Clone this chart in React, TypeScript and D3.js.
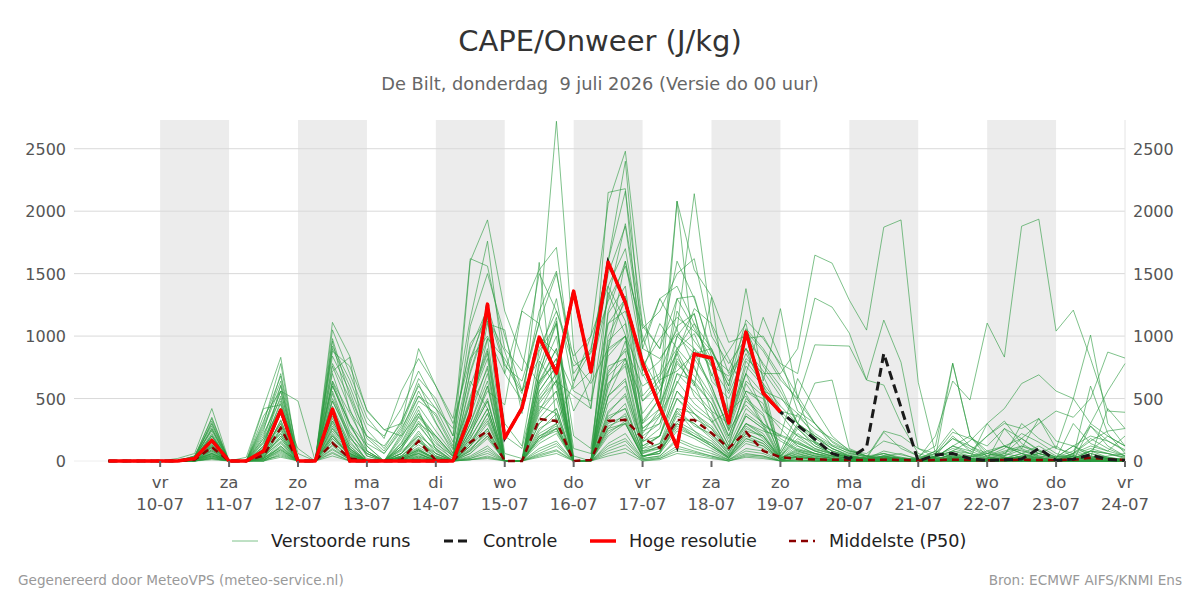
import React, { useEffect, useRef } from 'react';
import * as d3 from 'd3';

// 6-hourly steps, starting 9-07 06:00 UTC (60 steps up to 24-07 00:00)
const startTime = Date.UTC(2026, 6, 9, 6);
const stepHours = 6;

const dayNames = ['zo', 'ma', 'di', 'wo', 'do', 'vr', 'za'];
const yTicks = [0, 500, 1000, 1500, 2000, 2500];
const legendLabels = ['Verstoorde runs', 'Controle', 'Hoge resolutie', 'Middelste (P50)'];

// Hoge resolutie (runs to +240h)
const hres = [
  0, 0, 0, 0, 0, 20, 165, 0, 0, 80, 408, 0, 0, 415, 0, 0, 0, 0, 0, 0,
  0, 370, 1256, 184, 424, 992, 704, 1360, 712, 1592, 1270, 784, 432, 112, 856, 824, 304, 1032, 544, 392,
];

// Controle
const control = [
  0, 0, 0, 0, 0, 20, 165, 0, 0, 80, 408, 0, 0, 415, 0, 0, 0, 0, 0, 0,
  0, 370, 1256, 184, 424, 992, 704, 1360, 712, 1592, 1270, 784, 432, 112, 856, 824, 304, 1032, 544, 392,
  285, 175, 60, 20, 110, 860, 430, 0, 48, 60, 20, 5, 10, 15, 100, 5, 15, 50, 12, 5,
];

// Middelste (P50)
const p50 = [
  0, 0, 0, 0, 0, 10, 110, 0, 0, 45, 264, 0, 0, 144, 20, 0, 0, 10, 160, 5,
  0, 150, 240, 0, 0, 336, 320, 0, 8, 320, 330, 184, 104, 328, 328, 224, 104, 232, 80, 32,
  16, 12, 10, 8, 8, 10, 8, 5, 8, 10, 8, 5, 8, 10, 8, 8, 10, 25, 15, 8,
];

// Verstoorde runs (ensemble members)
const members: number[][] = [
  [0,0,0, 0,0,30,210, 0,0,150,520, 0,0,640,380, 120,0,150,410, 90,0,820,1180, 760,640,1100,2720, 900,420,1350,1010, 380,560,880,620, 310,400,520,280, 210,150,90,60, 30,20,40,10, 0,10,60,20, 0,10,40,30, 10,20,80,30, 10],
  [0,0,0, 0,0,20,320, 0,0,90,610, 0,0,980,520, 200,80,280,620, 310,60,1600,1930, 1200,830,620,900, 400,650,1500,1880, 950,1300,1400,1100, 900,600,1380,640, 1220,500,140,60, 20,10,20,10, 0,30,120,60, 20,60,180,90, 30,120,60,20, 10],
  [0,0,0, 0,0,10,180, 0,0,240,700, 60,0,880,760, 410,250,300,900, 600,340,1140,1760, 700,1200,1100,640, 520,420,2150,2180, 700,450,800,600, 1310,380,700,1150, 820,400,300,120, 60,40,10,0, 0,0,20,0, 10,30,20,10, 0,40,10,0, 0],
  [0,0,0, 0,0,40,280, 0,0,420,450, 0,0,560,200, 0,0,120,300, 200,50,400,1100, 1050,380,1590,300, 620,1000,2060,2480, 1260,400,2080,820, 600,250,450,300, 180,90,60,20, 10,0,0,0, 0,0,40,10, 0,30,10,0, 0,20,0,0, 0],
  [0,0,0, 0,0,20,150, 0,0,60,380, 0,0,720,830, 80,0,60,180, 60,0,260,560, 450,1210,1530,1710, 640,880,1600,2400, 900,1300,1050,2140, 1080,700,900,560, 500,380,200,100, 40,20,30,10, 0,10,0,20, 10,0,30,10, 0,0,10,0, 0],
  [0,0,0, 0,0,10,90, 0,0,20,260, 0,0,420,120, 0,0,30,90, 0,0,380,980, 820,560,1110,1500, 810,620,900,1600, 1000,620,2080,1530, 1320,950,1000,780, 600,300,150,80, 30,10,20,0, 0,20,10,0, 10,0,20,30, 0,0,10,20, 0],
  [0,0,0, 0,0,0,60, 0,0,30,200, 0,0,320,80, 0,0,0,40, 0,0,180,420, 0,0,620,820, 0,0,700,900, 600,700,1080,1180, 640,500,820,700, 700,900,1648,1584, 1288,1048,1872,1930, 630,60,20,10, 0,20,30,10, 0,40,20,10, 0],
  [0,0,0, 0,0,20,110, 0,0,50,330, 0,0,260,100, 0,0,80,200, 100,0,250,500, 0,0,800,600, 0,0,900,1000, 680,800,1050,760, 400,300,700,400, 300,200,150,80, 40,10,30,20, 20,200,640,488, 1104,832,1880,1936, 1040,1208,820,400, 390],
  [0,0,0, 0,0,30,240, 0,0,120,480, 0,0,600,300, 40,0,200,480, 380,120,1080,1500, 1000,560,820,1300, 580,720,1300,1900, 1080,900,1600,1300, 880,600,1130,980, 780,700,1304,1232, 1024,650,1128,790, 100,30,10,0, 0,10,0,20, 10,0,40,20, 0],
  [0,0,0, 0,0,0,40, 0,0,0,120, 0,0,180,60, 0,0,0,30, 0,0,120,380, 0,0,400,650, 0,0,520,820, 480,650,720,860, 900,560,1040,880, 650,500,930,925, 920,648,608,300, 60,20,0,0, 0,10,20,0, 0,0,10,0, 0],
  [0,0,0, 0,0,10,120, 0,0,80,300, 0,0,480,200, 0,0,100,350, 180,30,720,1150, 880,460,1000,860, 560,480,1100,1200, 720,1100,900,1020, 700,400,1050,760, 560,300,624,648, 100,40,20,0, 10,30,780,200, 30,10,40,60, 20,0,0,10, 20],
  [0,0,0, 0,20,60,420, 0,30,430,830, 0,0,1050,700, 350,180,560,820, 600,300,820,1000, 700,480,900,1200, 840,1000,1400,1700, 900,820,1020,900, 760,540,860,620, 440,300,180,100, 50,20,10,0, 0,0,20,0, 0,0,10,0, 0,0,0,0, 0],
  [0,0,0, 0,0,30,300, 0,0,320,680, 0,0,900,600, 250,100,320,600, 420,150,780,1240, 780,540,1200,1520, 700,900,1600,2160, 1100,900,1300,1320, 840,720,1060,900, 680,480,300,150, 70,30,20,10, 0,0,20,0, 0,0,10,0, 0,0,0,0, 0],
  [0,0,0, 0,0,30,350, 0,0,300,780, 0,0,1110,840, 400,250,200,380, 160,0,640,420, 0,0,440,380, 0,0,1400,1120, 480,600,860,1220, 1100,820,540,300, 200,140,80,40, 20,0,10,0, 0,0,30,10, 20,10,0,60, 120,30,10,20, 10],
  [0,0,0, 0,0,40,340, 0,0,360,560, 0,0,960,400, 200,120,300,660, 500,200,1620,1560, 900,720,1500,1200, 760,860,1280,1560, 1060,1200,1500,1620, 1000,780,980,1000, 760,520,300,160, 80,40,20,10, 0,0,10,0, 0,10,0,10, 0,0,10,0, 0],
  [0,0,0, 0,0,20,200, 0,0,180,560, 0,0,920,650, 300,200,420,720, 460,200,940,1140, 0,0,700,1100, 0,0,900,1320, 520,680,900,1100, 760,680,900,680, 400,260,120,60, 30,10,40,20, 10,30,120,80, 200,300,260,340, 100,500,1008,300, 120],
  [0,0,0, 0,0,10,80, 0,0,40,180, 0,0,380,100, 0,0,40,150, 60,0,200,600, 0,0,560,760, 0,0,680,820, 300,420,860,520, 380,120,620,420, 260,120,60,40, 20,30,60,20, 10,80,30,20, 60,120,180,300, 400,350,500,872, 824],
  [0,0,0, 0,0,20,260, 0,0,280,640, 0,0,840,560, 180,60,240,560, 300,90,460,820, 0,0,500,640, 0,0,760,820, 260,380,620,900, 560,280,760,600, 400,360,220,130, 80,60,160,120, 40,120,784,200, 60,40,90,30, 0,40,20,30, 10],
  [0,0,0, 0,0,10,60, 0,0,20,140, 0,0,210,40, 0,0,20,60, 0,0,80,260, 0,0,300,420, 0,0,380,540, 160,200,500,380, 220,80,360,260, 160,80,40,20, 10,0,20,10, 0,10,0,20, 0,20,60,10, 0,30,10,0, 0],
  [0,0,0, 0,0,40,300, 0,0,200,560, 480,0,760,420, 80,0,220,520, 420,260,900,1220, 200,100,680,1000, 100,60,1200,1600, 820,560,1000,1180, 680,880,1100,520, 380,200,100,60, 40,20,60,30, 10,40,200,80, 30,20,60,120, 40,20,80,60, 30],
  [0,0,0, 0,0,10,150, 0,0,100,420, 0,0,540,160, 0,0,60,200, 0,0,300,700, 0,0,520,700, 0,0,580,960, 240,300,700,640, 460,180,480,360, 40,160,80,40, 20,10,0,10, 0,20,50,20, 10,60,30,10, 0,20,60,30, 0],
  [0,0,0, 0,0,10,200, 0,0,140,460, 0,0,700,300, 120,0,180,440, 240,60,520,900, 60,20,760,1150, 40,0,1000,1280, 300,500,1200,960, 780,260,700,540, 80,380,260,180, 90,40,20,10, 0,0,60,40, 20,0,30,60, 20,0,280,120, 40],
  [0,0,0, 0,0,20,180, 0,0,120,380, 0,0,480,180, 60,0,90,320, 140,40,360,760, 0,0,600,820, 0,0,840,1000, 160,360,900,740, 520,200,560,460, 60,300,200,120, 60,30,240,200, 100,60,230,180, 120,260,100,340, 160,120,200,160, 80],
  [0,0,0, 0,0,0,40, 0,0,20,120, 0,0,200,40, 0,0,20,90, 20,0,140,380, 0,0,300,420, 0,0,400,520, 100,140,420,380, 260,100,300,200, 20,80,40,20, 10,0,20,30, 0,30,80,160, 300,420,620,690, 560,500,300,200, 120],
  [0,0,0, 0,0,30,250, 0,0,220,500, 0,0,620,240, 40,0,120,300, 100,0,480,860, 0,0,640,900, 0,0,960,1100, 220,420,1000,860, 600,240,640,520, 40,180,100,50, 20,10,30,10, 0,10,20,10, 0,10,40,20, 10,40,600,220, 60],
  [0,0,0, 0,0,20,220, 0,0,160,420, 0,0,640,280, 80,0,140,380, 200,40,600,980, 0,0,700,1120, 0,0,1180,1400, 320,500,1300,1060, 820,300,800,620, 60,280,160,80, 40,20,80,50, 20,80,260,120, 60,120,80,40, 20,60,180,100, 40],
  [0,0,0, 0,0,10,130, 0,0,70,320, 0,0,400,120, 0,0,60,240, 60,0,300,640, 0,0,480,700, 0,0,620,780, 150,260,700,560, 400,120,420,300, 30,140,80,40, 20,10,30,10, 0,0,30,10, 0,20,10,0, 0,20,30,10, 0],
  [0,0,0, 0,0,20,170, 0,0,110,400, 0,0,500,220, 60,0,100,280, 120,20,420,740, 0,0,560,760, 0,0,720,880, 200,300,780,620, 460,150,500,380, 30,220,120,60, 30,20,40,20, 10,30,80,40, 20,40,120,80, 30,50,100,60, 20],
  [0,0,0, 0,0,30,260, 0,0,260,600, 0,0,780,500, 140,60,260,520, 360,100,700,1120, 300,120,880,1100, 200,100,1100,1300, 760,980,1150,1040, 880,640,900,720, 520,300,200,100, 40,20,10,0, 0,0,10,0, 0,20,10,0, 0,0,20,0, 0],
  [0,0,0, 0,0,20,200, 0,0,180,420, 100,0,600,300, 60,0,120,360, 200,40,500,880, 0,0,640,780, 0,0,880,1000, 260,360,820,680, 500,200,560,500, 40,260,140,60, 30,20,230,100, 40,20,40,20, 10,260,180,80, 30,120,40,20, 10],
  [0,0,0, 0,0,20,140, 0,0,90,300, 0,0,440,140, 20,0,60,220, 80,0,260,600, 0,0,460,640, 0,0,620,760, 100,200,640,460, 340,80,380,280, 20,120,60,30, 10,20,10,0, 0,40,60,20, 300,120,60,30, 0,10,30,420, 260],
  [0,0,0, 0,0,20,120, 0,0,80,280, 0,0,360,100, 0,0,40,160, 40,0,220,480, 0,0,420,560, 0,0,520,640, 120,200,560,420, 320,100,360,260, 20,100,60,30, 10,0,40,60, 10,0,20,0, 0,20,0,0, 0,60,300,560, 780],
  [0,0,0, 0,0,10,110, 0,0,60,260, 0,0,340,90, 0,0,40,170, 40,0,220,480, 0,0,380,560, 0,0,520,660, 120,200,560,380, 280,100,300,240, 200,660,420,200, 80,40,60,20, 10,60,180,100, 40,80,120,60, 20,300,140,80, 40],
  [0,0,0, 0,0,0,30, 0,0,10,90, 0,0,130,20, 0,0,10,40, 0,0,40,120, 0,0,180,300, 0,0,260,380, 40,60,400,240, 120,20,260,200, 10,40,20,10, 0,0,10,0, 0,0,10,0, 0,0,20,10, 0,0,10,0, 0],
  [0,0,0, 0,0,20,100, 0,0,60,240, 0,0,300,60, 0,0,0,80, 20,0,120,300, 0,0,200,260, 0,0,340,420, 80,100,360,300, 200,60,280,180, 20,60,20,10, 0,0,0,0, 0,0,10,0, 0,10,0,0, 0,0,0,10, 0],
  [0,0,0, 0,0,10,70, 0,0,30,160, 0,0,240,60, 0,0,30,110, 30,0,160,340, 0,0,240,380, 0,0,320,460, 60,120,380,300, 180,40,220,160, 10,60,30,10, 0,0,0,0, 20,60,180,120, 40,100,220,150, 60,20,80,200, 120],
  [0,0,0, 0,0,10,60, 0,0,40,200, 0,0,280,60, 0,0,0,60, 0,0,80,200, 0,0,180,260, 0,0,220,320, 30,80,260,200, 120,30,180,120, 10,30,10,0, 0,0,0,0, 0,30,120,200, 80,40,300,180, 100,60,160,240, 260],
  [0,0,0, 0,0,0,20, 0,0,0,60, 0,0,100,10, 0,0,0,20, 0,0,20,60, 0,0,80,140, 0,0,120,180, 20,40,160,100, 60,10,80,60, 0,10,0,0, 0,0,0,0, 0,0,0,0, 0,0,0,0, 0,0,0,0, 0],
  [0,0,0, 0,0,0,50, 0,0,20,110, 0,0,160,30, 0,0,10,50, 10,0,60,200, 0,0,140,220, 0,0,200,300, 40,60,240,180, 100,20,140,100, 10,30,10,0, 0,0,0,0, 10,40,100,60, 200,320,140,60, 30,80,280,160, 90],
  [0,0,0, 0,0,10,90, 0,0,50,220, 0,0,320,80, 0,0,30,130, 30,0,180,420, 0,0,340,500, 0,0,460,600, 80,140,500,340, 260,60,300,220, 20,90,50,20, 10,0,10,0, 0,0,0,0, 0,0,0,10, 0,0,10,0, 0],
  [0,0,0, 0,0,0,20, 0,0,10,40, 0,0,60,0, 0,0,0,10, 0,0,10,30, 0,0,40,80, 0,0,60,100, 10,20,80,60, 30,0,40,30, 0,0,0,0, 0,0,0,0, 0,0,0,0, 0,0,0,0, 0,0,0,0, 0],
  [0,0,0, 0,0,10,40, 0,0,10,80, 0,0,120,10, 0,0,0,30, 0,0,30,100, 0,0,100,160, 0,0,140,220, 20,40,180,120, 80,10,100,80, 0,20,10,0, 0,0,0,10, 0,0,0,0, 0,0,0,0, 0,0,0,0, 0],
  [0,0,0, 0,0,0,10, 0,0,0,30, 0,0,40,0, 0,0,0,0, 0,0,10,20, 0,0,30,60, 0,0,40,70, 0,10,60,40, 20,0,30,20, 0,0,0,0, 0,0,0,0, 0,0,0,0, 0,0,0,0, 0,0,0,0, 0],
  [0,0,0, 0,0,10,60, 0,0,30,100, 0,0,150,30, 0,0,20,60, 0,0,60,180, 0,0,160,260, 0,0,240,300, 30,80,280,200, 140,30,200,140, 10,40,20,10, 0,0,0,0, 0,0,20,40, 60,30,20,10, 0,0,20,40, 60],
  [0,0,0, 0,0,20,110, 0,0,70,180, 0,0,200,50, 0,0,20,90, 20,0,120,260, 0,0,220,300, 0,0,300,360, 60,100,320,240, 160,40,220,160, 20,50,30,10, 0,10,20,10, 0,20,40,30, 80,120,60,20, 10,60,120,80, 200],
  [0,0,0, 0,0,10,50, 0,0,20,90, 0,0,180,40, 0,0,10,70, 0,0,90,240, 0,0,200,280, 0,0,280,340, 40,60,300,220, 140,20,180,140, 10,40,20,10, 0,0,20,10, 0,10,30,20, 10,30,20,10, 0,10,30,20, 10],
  [0,0,0, 0,0,0,30, 0,0,10,70, 0,0,90,10, 0,0,0,20, 0,0,20,80, 0,0,60,120, 0,0,100,160, 10,30,120,80, 40,10,60,40, 0,10,0,0, 0,0,0,0, 0,0,0,0, 0,0,0,0, 0,0,0,0, 0],
  [0,0,0, 0,0,20,130, 0,0,90,220, 0,0,260,70, 0,0,30,100, 10,0,140,320, 0,0,260,340, 0,0,360,420, 70,120,420,280, 220,50,240,200, 30,70,40,20, 10,20,40,20, 10,40,80,60, 30,70,100,40, 20,40,80,60, 30],
  [0,0,0, 0,0,0,20, 0,0,0,50, 0,0,70,0, 0,0,0,10, 0,0,10,40, 0,0,50,90, 0,0,80,130, 0,20,100,70, 40,0,50,40, 0,0,0,0, 0,0,0,0, 0,0,0,0, 0,0,0,0, 0,0,0,0, 0],
  [0,0,0, 0,0,10,80, 0,0,40,150, 0,0,220,50, 0,0,20,80, 10,0,100,220, 0,0,180,240, 0,0,260,300, 40,80,300,200, 120,30,160,120, 10,30,20,10, 0,0,10,0, 0,0,10,0, 0,0,0,0, 0,0,0,0, 0],
];

const App = () => {
  const svgRef = useRef<SVGSVGElement>(null);

  useEffect(() => {
    const svg = d3.select(svgRef.current);
    svg.selectAll('*').remove();

    const width = 1200;
    const height = 600;
    const left = 74, right = 1125, top = 120, bottom = 461;
    const font = 'DejaVu Sans, sans-serif';

    const timeAt = (i: number) => new Date(startTime + i * stepHours * 3600 * 1000);

    const x = d3.scaleUtc()
      .domain([new Date(Date.UTC(2026, 6, 8, 18)), new Date(Date.UTC(2026, 6, 24, 0))])
      .range([left, right]);
    const y = d3.scaleLinear().domain([0, 2730]).range([bottom, top]);

    svg.append('rect').attr('width', width).attr('height', height).attr('fill', '#fff');

    // alternating day bands
    const days = d3.utcDay.range(new Date(Date.UTC(2026, 6, 10)), new Date(Date.UTC(2026, 6, 25)));
    svg.append('g')
      .selectAll('rect')
      .data(days.filter((d, i) => i % 2 === 0 && d < x.domain()[1]))
      .enter().append('rect')
      .attr('x', d => x(d))
      .attr('y', top)
      .attr('width', d => x(d3.utcDay.offset(d, 1)) - x(d))
      .attr('height', bottom - top)
      .attr('fill', '#ececec');

    // grid
    svg.append('g')
      .selectAll('line')
      .data(yTicks)
      .enter().append('line')
      .attr('x1', left).attr('x2', right)
      .attr('y1', d => y(d)).attr('y2', d => y(d))
      .attr('stroke', d => (d === 0 ? '#eeeeee' : '#d9d9d9'))
      .attr('stroke-width', 1);

    svg.append('line')
      .attr('x1', right).attr('x2', right).attr('y1', top).attr('y2', bottom)
      .attr('stroke', '#e4e4e4');

    const line = d3.line<number>()
      .x((d, i) => x(timeAt(i)))
      .y(d => y(d));

    // members
    svg.append('g')
      .selectAll('path')
      .data(members)
      .enter().append('path')
      .attr('d', d => line(d))
      .attr('fill', 'none')
      .attr('stroke', '#2a9a3e')
      .attr('stroke-opacity', 0.6)
      .attr('stroke-width', 1);

    svg.append('path').datum(p50).attr('d', line)
      .attr('fill', 'none').attr('stroke', '#8b0000')
      .attr('stroke-width', 2.5).attr('stroke-dasharray', '7,5');

    svg.append('path').datum(control).attr('d', line)
      .attr('fill', 'none').attr('stroke', '#1a1a1a')
      .attr('stroke-width', 3).attr('stroke-dasharray', '9,5');

    svg.append('path').datum(hres).attr('d', line)
      .attr('fill', 'none').attr('stroke', '#ff0000')
      .attr('stroke-width', 3.5).attr('stroke-linejoin', 'round');

    // x axis ticks + labels
    const xt = svg.append('g');
    const tickDays = days.filter(d => d <= x.domain()[1]);
    xt.selectAll('line')
      .data(tickDays)
      .enter().append('line')
      .attr('x1', d => x(d)).attr('x2', d => x(d))
      .attr('y1', bottom).attr('y2', bottom + 6)
      .attr('stroke', '#666').attr('stroke-width', 2);
    const fmt = d3.utcFormat('%d-%m');
    const lab = xt.selectAll('text')
      .data(tickDays)
      .enter().append('text')
      .attr('text-anchor', 'middle')
      .attr('font-family', font)
      .attr('font-size', 16.5)
      .attr('fill', '#555');
    lab.append('tspan').attr('x', d => x(d)).attr('y', 488).text(d => dayNames[d.getUTCDay()]);
    lab.append('tspan').attr('x', d => x(d)).attr('y', 510).text(d => fmt(d));

    // y labels both sides
    const yl = svg.append('g').attr('font-family', font).attr('font-size', 16).attr('fill', '#555');
    yl.selectAll('text.l')
      .data(yTicks).enter().append('text')
      .attr('class', 'l')
      .attr('x', 66).attr('y', d => y(d) + 6)
      .attr('text-anchor', 'end')
      .text(d => d);
    yl.selectAll('text.r')
      .data(yTicks).enter().append('text')
      .attr('class', 'r')
      .attr('x', 1133).attr('y', d => y(d) + 6)
      .text(d => d);

    // titles
    svg.append('text')
      .attr('x', 600).attr('y', 51)
      .attr('text-anchor', 'middle')
      .attr('font-family', font).attr('font-size', 29).attr('fill', '#333')
      .text('CAPE/Onweer (J/kg)');
    svg.append('text')
      .attr('x', 600).attr('y', 90)
      .attr('text-anchor', 'middle')
      .attr('font-family', font).attr('font-size', 17.8).attr('fill', '#666')
      .style('white-space', 'pre')
      .text('De Bilt, donderdag  9 juli 2026 (Versie do 00 uur)');

    // legend
    const legendItems = [
      { x: 232, stroke: '#2a9a3e', opacity: 0.6, w: 1, dash: null, tx: 271 },
      { x: 444, stroke: '#1a1a1a', opacity: 1, w: 3, dash: '9,5', tx: 483 },
      { x: 590, stroke: '#ff0000', opacity: 1, w: 3.5, dash: null, tx: 629 },
      { x: 789, stroke: '#8b0000', opacity: 1, w: 2.5, dash: '7,5', tx: 829 },
    ];
    const lg = svg.append('g');
    legendItems.forEach((it, i) => {
      lg.append('line')
        .attr('x1', it.x).attr('x2', it.x + 26).attr('y1', 541).attr('y2', 541)
        .attr('stroke', it.stroke).attr('stroke-opacity', it.opacity)
        .attr('stroke-width', it.w).attr('stroke-dasharray', it.dash);
      lg.append('text')
        .attr('x', it.tx).attr('y', 547)
        .attr('font-family', font).attr('font-size', 17.6).attr('fill', '#222')
        .text(legendLabels[i]);
    });

    // footer
    svg.append('text')
      .attr('x', 18).attr('y', 585)
      .attr('font-family', font).attr('font-size', 13.6).attr('fill', '#999')
      .text('Gegenereerd door MeteoVPS (meteo-service.nl)');
    svg.append('text')
      .attr('x', 1182).attr('y', 585)
      .attr('text-anchor', 'end')
      .attr('font-family', font).attr('font-size', 13.6).attr('fill', '#999')
      .text('Bron: ECMWF AIFS/KNMI Ens');
  }, []);

  return (
    <svg
      ref={svgRef}
      width={1200}
      height={600}
      style={{ position: 'absolute', left: 0, top: 0, display: 'block' }}
    />
  );
};

export default App;
